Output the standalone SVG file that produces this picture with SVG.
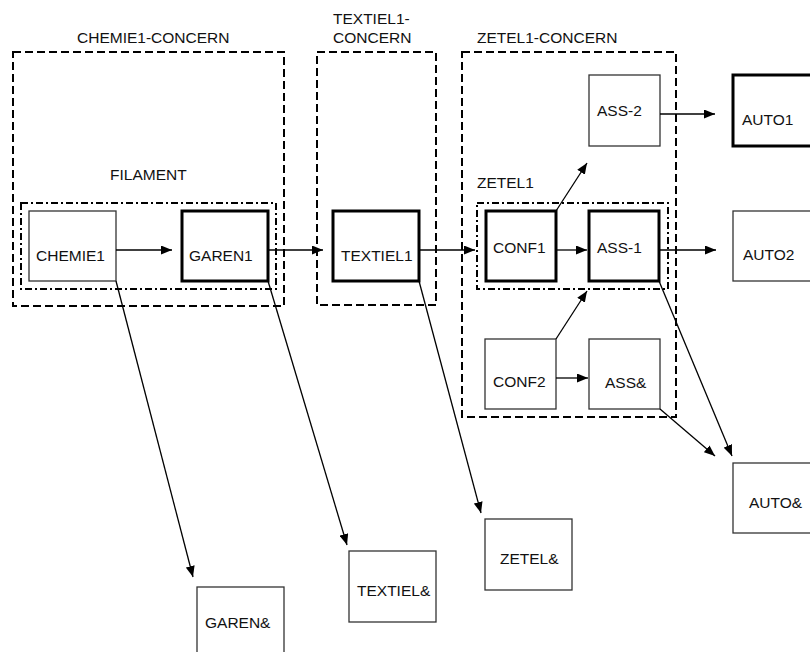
<svg xmlns="http://www.w3.org/2000/svg" width="810" height="652" viewBox="0 0 810 652">
<defs>
<marker id="ah" markerWidth="11" markerHeight="9" refX="11" refY="4.5" orient="auto" markerUnits="userSpaceOnUse">
<path d="M0,0 L11,4.5 L0,9 z" fill="#000"/>
</marker>
<style>
text{font-family:"Liberation Sans",Arial,sans-serif;font-size:15.5px;fill:#111}
.thin{fill:#fff;stroke:#333;stroke-width:1.3}
.thick{fill:#fff;stroke:#000;stroke-width:3}
.dash{fill:none;stroke:#000;stroke-width:2;stroke-dasharray:8 4}
.dashdot{fill:none;stroke:#000;stroke-width:2;stroke-dasharray:7 3 2 3}
.conn line{stroke:#000;stroke-width:1.3;marker-end:url(#ah)}
</style>
</defs>
<rect width="810" height="652" fill="#fff"/>
<g id="chemie1-concern">
<rect class="dash" x="13" y="52" width="271" height="254"/>
<text x="77" y="43">CHEMIE1-CONCERN</text>
</g>
<g id="textiel1-concern">
<rect class="dash" x="317" y="52" width="119" height="253"/>
<text x="333" y="24">TEXTIEL1-</text>
<text x="333" y="43">CONCERN</text>
</g>
<g id="zetel1-concern">
<rect class="dash" x="462" y="52" width="214" height="365"/>
<text x="477" y="43">ZETEL1-CONCERN</text>
</g>
<g id="filament">
<rect class="dashdot" x="21" y="203" width="255" height="86"/>
<text x="110" y="180">FILAMENT</text>
</g>
<g id="zetel1">
<rect class="dashdot" x="477" y="203" width="191" height="86"/>
<text x="477" y="188">ZETEL1</text>
</g>
<g id="chemie1"><rect class="thin" x="29" y="211" width="87" height="70"/><text x="36" y="261">CHEMIE1</text></g>
<g id="garen1"><rect class="thick" x="182" y="211" width="86" height="70"/><text x="189" y="261">GAREN1</text></g>
<g id="textiel1"><rect class="thick" x="333" y="211" width="86" height="70"/><text x="341" y="261">TEXTIEL1</text></g>
<g id="conf1"><rect class="thick" x="486" y="211" width="70" height="70"/><text x="493" y="253">CONF1</text></g>
<g id="ass-1"><rect class="thick" x="589" y="211" width="70" height="70"/><text x="597" y="253">ASS-1</text></g>
<g id="ass-2"><rect class="thin" x="589" y="75" width="71" height="71"/><text x="597" y="116">ASS-2</text></g>
<g id="conf2"><rect class="thin" x="485" y="339" width="71" height="70"/><text x="493" y="387">CONF2</text></g>
<g id="ass-amp"><rect class="thin" x="589" y="339" width="71" height="70"/><text x="605" y="388">ASS&amp;</text></g>
<g id="auto1"><rect class="thick" x="733" y="75" width="90" height="71"/><text x="742" y="125">AUTO1</text></g>
<g id="auto2"><rect class="thin" x="733" y="211" width="90" height="70"/><text x="743" y="260">AUTO2</text></g>
<g id="auto-amp"><rect class="thin" x="733" y="463" width="90" height="70"/><text x="749" y="508">AUTO&amp;</text></g>
<g id="garen-amp"><rect class="thin" x="197" y="587" width="87" height="75"/><text x="205" y="628">GAREN&amp;</text></g>
<g id="textiel-amp"><rect class="thin" x="349" y="551" width="87" height="71"/><text x="357" y="596">TEXTIEL&amp;</text></g>
<g id="zetel-amp"><rect class="thin" x="485" y="519" width="87" height="71"/><text x="500" y="564">ZETEL&amp;</text></g>
<g id="connectors" class="conn">
<line x1="116" y1="250" x2="172" y2="250"/>
<line x1="268" y1="250" x2="323" y2="250"/>
<line x1="419" y1="250" x2="475" y2="250"/>
<line x1="556" y1="250" x2="587" y2="250"/>
<line x1="556" y1="211" x2="587" y2="163"/>
<line x1="660" y1="114" x2="715" y2="114"/>
<line x1="659" y1="250" x2="716" y2="250"/>
<line x1="556" y1="378" x2="588" y2="378"/>
<line x1="556" y1="339" x2="587" y2="291"/>
<line x1="659" y1="281" x2="732" y2="456"/>
<line x1="660" y1="409" x2="715" y2="456"/>
<line x1="116" y1="281" x2="193" y2="577"/>
<line x1="268" y1="281" x2="347" y2="545"/>
<line x1="419" y1="281" x2="481" y2="513"/>
</g>
</svg>
